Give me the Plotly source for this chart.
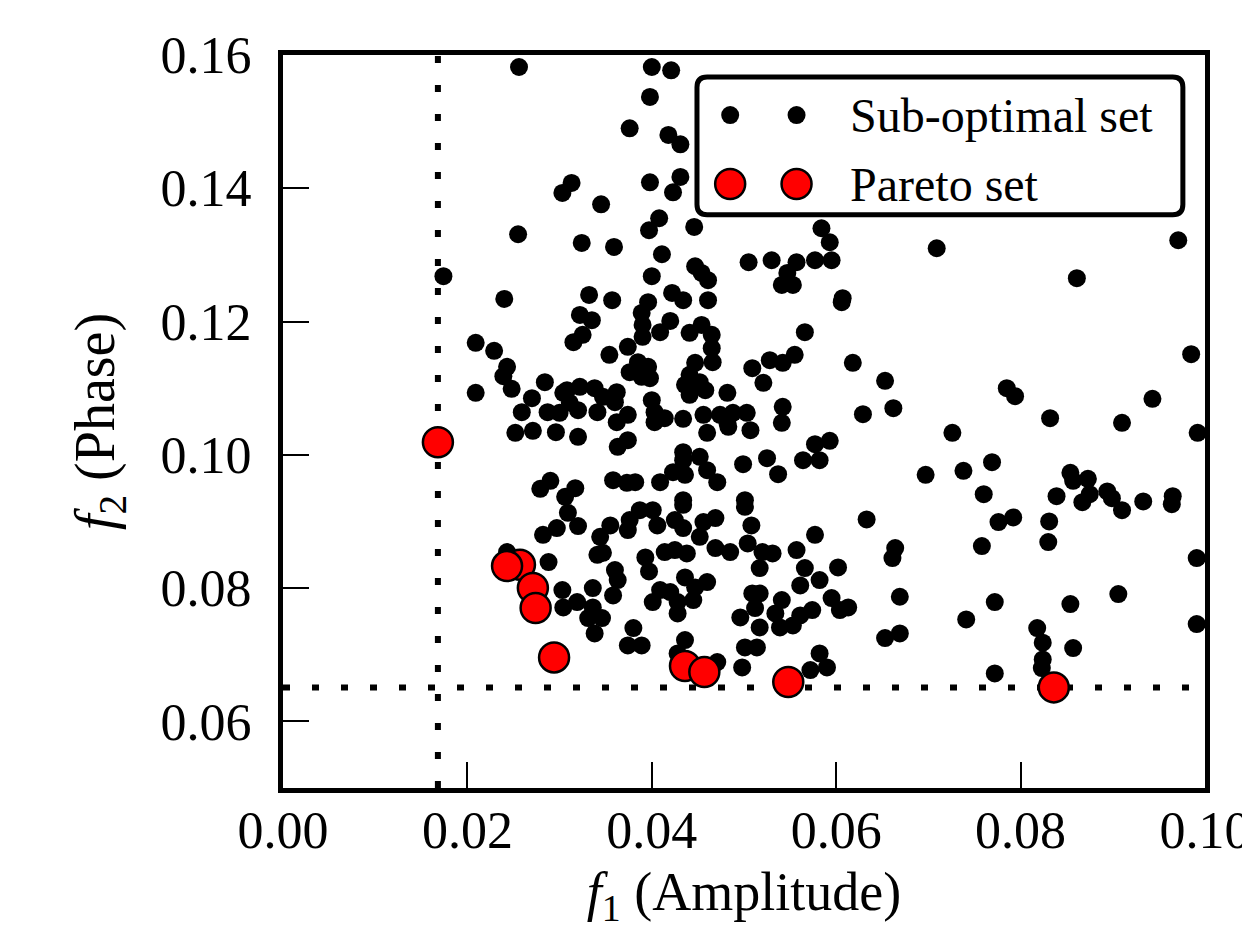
import plotly.graph_objects as go

# ---------------- data ----------------
sub_x = [0.0256, 0.0400, 0.0421, 0.0398, 0.0376, 0.0418, 0.0431, 0.0313, 0.0303, 0.0398,
         0.0431, 0.0423, 0.0345, 0.0408, 0.0397, 0.0446, 0.0255, 0.0324, 0.0359, 0.0411,
         0.0400, 0.0447, 0.0454, 0.0461, 0.0505, 0.0530, 0.0547, 0.0541, 0.0553, 0.0557,
         0.0577, 0.0595, 0.0584, 0.0593, 0.0607, 0.0709, 0.0861, 0.0971, 0.0174, 0.0240,
         0.0332, 0.0357, 0.0396, 0.0422, 0.0434, 0.0461, 0.0389,
         0.0209, 0.0229, 0.0243, 0.0239, 0.0248, 0.0209, 0.0284, 0.0270, 0.0259, 0.0287,
         0.0304, 0.0300, 0.0252, 0.0271, 0.0296, 0.0315, 0.0290, 0.0279, 0.0306, 0.0322,
         0.0335, 0.0325, 0.0354, 0.0374, 0.0376, 0.0385, 0.0396, 0.0398, 0.0389, 0.0390,
         0.0390, 0.0409, 0.0420, 0.0441, 0.0454, 0.0465, 0.0465, 0.0466, 0.0447, 0.0441,
         0.0436, 0.0452, 0.0458, 0.0441, 0.0482, 0.0308, 0.0322, 0.0338, 0.0347, 0.0362,
         0.0360, 0.0311, 0.0320, 0.0341, 0.0362, 0.0374, 0.0400, 0.0403, 0.0403, 0.0414,
         0.0434, 0.0456, 0.0474, 0.0460, 0.0482, 0.0320, 0.0363, 0.0374, 0.0434, 0.0452,
         0.0434, 0.0460, 0.0471, 0.0358, 0.0373, 0.0382, 0.0409, 0.0423, 0.0436, 0.0317,
         0.0434, 0.0606, 0.0566, 0.0555, 0.0528, 0.0542, 0.0509, 0.0521, 0.0618, 0.0653,
         0.0662, 0.0629, 0.0488, 0.0503, 0.0483, 0.0507, 0.0542, 0.0541, 0.0577, 0.0593,
         0.0564, 0.0582, 0.0525, 0.0499, 0.0537, 0.0501, 0.0726, 0.0785, 0.0794, 0.0832,
         0.0910, 0.0943, 0.0985, 0.0992, 0.0697, 0.0738, 0.0769, 0.0760, 0.0854, 0.0857,
         0.0873, 0.0875, 0.0867, 0.0839, 0.0894, 0.0899, 0.0910, 0.0933, 0.0965, 0.0964,
         0.0309, 0.0297, 0.0282, 0.0243, 0.0288, 0.0303, 0.0304, 0.0320, 0.0355, 0.0344,
         0.0341, 0.0347, 0.0387, 0.0401, 0.0376, 0.0374, 0.0406, 0.0434, 0.0425, 0.0434,
         0.0456, 0.0469, 0.0452, 0.0469, 0.0485, 0.0393, 0.0397, 0.0414, 0.0425, 0.0438,
         0.0360, 0.0363, 0.0358, 0.0336, 0.0319, 0.0336, 0.0331, 0.0346, 0.0338, 0.0436,
         0.0460, 0.0447, 0.0409, 0.0420, 0.0401, 0.0428, 0.0445, 0.0428, 0.0380, 0.0374,
         0.0389, 0.0436, 0.0428, 0.0471, 0.0501, 0.0508, 0.0633, 0.0577, 0.0504, 0.0520,
         0.0531, 0.0557, 0.0517, 0.0566, 0.0602, 0.0661, 0.0664, 0.0561, 0.0582, 0.0509,
         0.0517, 0.0541, 0.0595, 0.0512, 0.0604, 0.0613, 0.0496, 0.0534, 0.0574, 0.0561,
         0.0517, 0.0539, 0.0553, 0.0501, 0.0514, 0.0498, 0.0582, 0.0590, 0.0572, 0.0653,
         0.0669, 0.0669, 0.0776, 0.0792, 0.0758, 0.0831, 0.0830, 0.0741, 0.0772, 0.0854,
         0.0906, 0.0991, 0.0991, 0.0818, 0.0824, 0.0824, 0.0823, 0.0857, 0.0772]

sub_y = [0.1582, 0.1582, 0.1577, 0.1537, 0.1490, 0.1480, 0.1466, 0.1408, 0.1393, 0.1409,
         0.1417, 0.1394, 0.1376, 0.1355, 0.1337, 0.1342, 0.1331, 0.1318, 0.1312, 0.1301,
         0.1268, 0.1283, 0.1273, 0.1262, 0.1289, 0.1292, 0.1273, 0.1255, 0.1255, 0.1289,
         0.1292, 0.1292, 0.1340, 0.1319, 0.1235, 0.1310, 0.1265, 0.1322, 0.1268, 0.1234,
         0.1240, 0.1232, 0.1229, 0.1243, 0.1232, 0.1232, 0.1213,
         0.1168, 0.1156, 0.1132, 0.1118, 0.1099, 0.1093, 0.1109, 0.1085, 0.1064, 0.1064,
         0.1093, 0.1063, 0.1033, 0.1036, 0.1034, 0.1169, 0.0961, 0.0949, 0.0937, 0.1210,
         0.1202, 0.1180, 0.1150, 0.1162, 0.1124, 0.1139, 0.1132, 0.1115, 0.1117, 0.1195,
         0.1177, 0.1184, 0.1201, 0.1183, 0.1195, 0.1180, 0.1160, 0.1139, 0.1138, 0.1120,
         0.1105, 0.1109, 0.1097, 0.1090, 0.1093, 0.1097, 0.1102, 0.1100, 0.1087, 0.1094,
         0.1079, 0.1078, 0.1067, 0.1064, 0.1049, 0.1060, 0.1082, 0.1064, 0.1049, 0.1055,
         0.1054, 0.1060, 0.1060, 0.1033, 0.1048, 0.1027, 0.1012, 0.1022, 0.1004, 0.0997,
         0.0992, 0.0977, 0.0959, 0.0962, 0.0958, 0.0959, 0.0959, 0.0974, 0.0970, 0.0950,
         0.0932, 0.1229, 0.1184, 0.1150, 0.1142, 0.1138, 0.1130, 0.1108, 0.1138, 0.1111,
         0.1070, 0.1061, 0.1063, 0.1063, 0.1042, 0.1037, 0.1072, 0.1048, 0.1016, 0.1021,
         0.0992, 0.0992, 0.0995, 0.0986, 0.0971, 0.0932, 0.1033, 0.1100, 0.1088, 0.1055,
         0.1048, 0.1084, 0.1151, 0.1033, 0.0970, 0.0976, 0.0989, 0.0941, 0.0973, 0.0961,
         0.0964, 0.0941, 0.0929, 0.0938, 0.0945, 0.0935, 0.0917, 0.0930, 0.0938, 0.0926,
         0.0913, 0.0890, 0.0880, 0.0854, 0.0839, 0.0797, 0.0771, 0.0893, 0.0894, 0.0877,
         0.0850, 0.0853, 0.0917, 0.0917, 0.0902, 0.0887, 0.0894, 0.0925, 0.0902, 0.0890,
         0.0899, 0.0905, 0.0877, 0.0860, 0.0854, 0.0846, 0.0825, 0.0854, 0.0857, 0.0852,
         0.0827, 0.0812, 0.0789, 0.0800, 0.0779, 0.0771, 0.0755, 0.0755, 0.0732, 0.0816,
         0.0809, 0.0801, 0.0797, 0.0794, 0.0779, 0.0779, 0.0782, 0.0762, 0.0740, 0.0714,
         0.0714, 0.0722, 0.0702, 0.0689, 0.0922, 0.0894, 0.0903, 0.0880, 0.0867, 0.0854,
         0.0852, 0.0857, 0.0830, 0.0830, 0.0831, 0.0845, 0.0860, 0.0804, 0.0812, 0.0792,
         0.0792, 0.0782, 0.0785, 0.0770, 0.0767, 0.0771, 0.0756, 0.0762, 0.0767, 0.0759,
         0.0741, 0.0741, 0.0744, 0.0711, 0.0711, 0.0681, 0.0702, 0.0681, 0.0677, 0.0725,
         0.0787, 0.0732, 0.0899, 0.0906, 0.0863, 0.0900, 0.0869, 0.0753, 0.0779, 0.0776,
         0.0791, 0.0845, 0.0746, 0.0740, 0.0718, 0.0693, 0.0680, 0.0710, 0.0672]

pareto_x = [0.0168, 0.0257, 0.0243, 0.0271, 0.0274, 0.0294, 0.0436, 0.0457, 0.0548, 0.0836]
pareto_y = [0.1019, 0.0835, 0.0833, 0.0800, 0.0770, 0.0696, 0.0683, 0.0674, 0.0659, 0.0651]

x_ticks = [0.00, 0.02, 0.04, 0.06, 0.08, 0.10]
y_ticks = [0.06, 0.08, 0.10, 0.12, 0.14, 0.16]
legend_labels = ["Sub-optimal set", "Pareto set"]

FONT = "Liberation Serif"
EPS = 1e-7

fig = go.Figure()
fig.add_trace(go.Scatter(
    x=sub_x, y=sub_y, mode="markers", name=legend_labels[0],
    marker=dict(size=18, color="black", line=dict(width=0)),
    showlegend=False))
fig.add_trace(go.Scatter(
    x=pareto_x, y=pareto_y, mode="markers", name=legend_labels[1],
    marker=dict(size=30, color="#ff0000", line=dict(width=2.5, color="black")),
    showlegend=False))

# dotted lines at the minimum of each objective on the Pareto set
min_x = min(pareto_x)
min_y = min(pareto_y)
shapes = [
    dict(type="line", xref="x", yref="paper", x0=min_x, x1=min_x, y0=0, y1=1,
         line=dict(color="black", width=6, dash="7px,22px"), layer="below"),
    dict(type="line", xref="paper", yref="y", x0=0, x1=1, y0=min_y, y1=min_y,
         line=dict(color="black", width=6, dash="7px,22px"), layer="below"),
]

# custom legend box (rounded), drawn below traces; no data falls inside it
bx0, bx1, by0, by1 = 0.449, 0.976, 0.782, 0.970
rx, ry = 0.011, 0.014
path = (f"M {bx0+rx},{by0} L {bx1-rx},{by0} Q {bx1},{by0} {bx1},{by0+ry} "
        f"L {bx1},{by1-ry} Q {bx1},{by1} {bx1-rx},{by1} L {bx0+rx},{by1} "
        f"Q {bx0},{by1} {bx0},{by1-ry} L {bx0},{by0+ry} Q {bx0},{by0} {bx0+rx},{by0} Z")
shapes.append(dict(type="path", xref="paper", yref="paper", path=path,
                   fillcolor="white", line=dict(color="black", width=5), layer="below"))

# legend markers on an overlay axis spanning [0, 1]
row1, row2 = 0.918, 0.824
leg_mx = [0.485, 0.557]
fig.add_trace(go.Scatter(
    x=leg_mx, y=[row1, row1], xaxis="x2", yaxis="y2", mode="markers",
    marker=dict(size=18, color="black"), cliponaxis=False, showlegend=False,
    hoverinfo="skip"))
fig.add_trace(go.Scatter(
    x=leg_mx, y=[row2, row2], xaxis="x2", yaxis="y2", mode="markers",
    marker=dict(size=30, color="#ff0000", line=dict(width=2.5, color="black")),
    cliponaxis=False, showlegend=False, hoverinfo="skip"))

annotations = [
    dict(text=legend_labels[0], xref="paper", yref="paper", x=0.613, y=row1,
         xanchor="left", yanchor="middle", showarrow=False,
         font=dict(family=FONT, size=48, color="black")),
    dict(text=legend_labels[1], xref="paper", yref="paper", x=0.613, y=row2,
         xanchor="left", yanchor="middle", showarrow=False,
         font=dict(family=FONT, size=48, color="black")),
]

axis_common = dict(
    showgrid=False, zeroline=False, showline=True, linecolor="black", linewidth=5,
    mirror=True, ticks="inside", ticklen=26, tickwidth=2, tickcolor="black",
    tickfont=dict(family=FONT, size=52, color="black"), automargin=False,
    ticklabeloverflow="allow",
)

# the page body adds an 8px offset, so the figure is 8px smaller and margins shifted
fig.update_layout(
    width=1242, height=935,
    margin=dict(l=275, r=45, t=47, b=155),
    paper_bgcolor="white", plot_bgcolor="white",
    shapes=shapes, annotations=annotations,
    font=dict(family=FONT, color="black"),
    showlegend=False,
    xaxis=dict(
        range=[0.0 - EPS, 0.10 + EPS], tickvals=x_ticks,
        ticktext=[f"{v:.2f}" for v in x_ticks], ticklabelstandoff=-7,
        title=dict(text="<i>f</i><sub>1</sub> (Amplitude)",
                   font=dict(family=FONT, size=54, color="black"), standoff=15),
        **axis_common),
    yaxis=dict(
        range=[0.05, 0.16 + EPS], tickvals=y_ticks,
        ticktext=[f"{v:.2f}" for v in y_ticks], ticklabelstandoff=16,
        title=dict(text="<i>f</i><sub>2</sub> (Phase)",
                   font=dict(family=FONT, size=56, color="black"), standoff=29),
        **axis_common),
    xaxis2=dict(overlaying="x", range=[0, 1], visible=False, fixedrange=True),
    yaxis2=dict(overlaying="y", range=[0, 1], visible=False, fixedrange=True),
)

fig.write_html("out.html")
